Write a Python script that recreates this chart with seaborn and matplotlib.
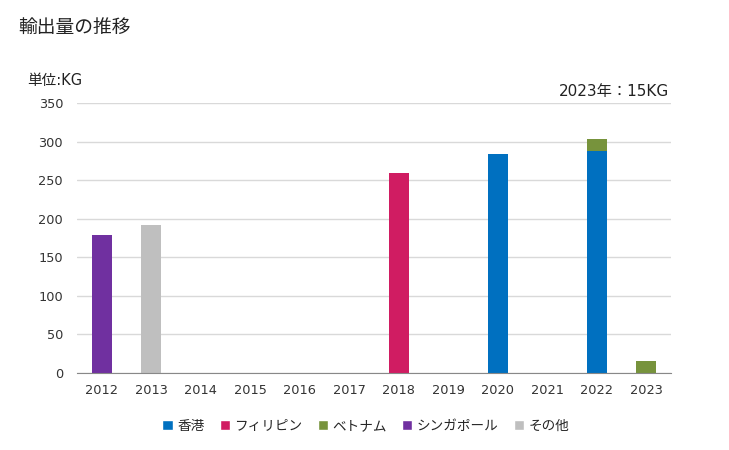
import pandas as pd
import numpy as np

import matplotlib
matplotlib.use("Agg")
import matplotlib.pyplot as plt
import seaborn as sns
from matplotlib.patches import Patch

years = [str(y) for y in range(2012, 2024)]
hongkong  = [0, 0, 0, 0, 0, 0, 0, 0, 284, 0, 288, 0]
philippines = [0, 0, 0, 0, 0, 0, 259, 0, 0, 0, 0, 0]
vietnam   = [0, 0, 0, 0, 0, 0, 0, 0, 0, 0, 15, 15]
singapore = [179, 0, 0, 0, 0, 0, 0, 0, 0, 0, 0, 0]
others    = [0, 192, 0, 0, 0, 0, 0, 0, 0, 0, 0, 0]

series_names = ["香港", "フィリピン", "ベトナム", "シンガポール", "その他"]
colors = ["#0070C0", "#D01C62", "#77933C", "#7030A0", "#BFBFBF"]

sns.set_style("white")
plt.rcParams['font.family'] = ['DejaVu Sans', 'Noto Sans CJK JP']

df = pd.DataFrame({"year": years, "香港": hongkong, "フィリピン": philippines,
                   "ベトナム": vietnam, "シンガポール": singapore, "その他": others})
cum = df[series_names].cumsum(axis=1)

fig = plt.figure(figsize=(7.29, 4.5), dpi=100)
ax = fig.add_axes([0.1056, 0.1711, 0.8148, 0.6])

# stacked bars: draw cumulative totals from top layer down
for name, col in reversed(list(zip(series_names, colors))):
    sns.barplot(x=df["year"], y=cum[name], color=col, width=0.4,
                order=years, ax=ax, saturation=1, linewidth=0)

ax.set_ylim(0, 350)
ax.set_yticks(range(0, 351, 50))
ax.yaxis.grid(True, color="#D9D9D9", linewidth=1)
ax.set_axisbelow(True)
ax.set_xlabel("")
ax.set_ylabel("")
for s in ["top", "right", "left"]:
    ax.spines[s].set_visible(False)
ax.spines["bottom"].set_color("#888888")
ax.tick_params(axis="both", length=0, labelsize=9.3, colors="#333333")
ax.tick_params(axis="x", pad=8)
ax.tick_params(axis="y", pad=10)

fig.text(0.025, 0.94, "輸出量の推移", fontsize=13.5, color="#222222", va="center")
fig.text(0.037, 0.822, "単位:KG", fontsize=10.5, color="#222222", va="center")
fig.text(0.918, 0.796, "2023年：15KG", fontsize=11, color="#222222", va="center", ha="right")

handles = [Patch(facecolor=c, label=n) for n, c in zip(series_names, colors)]
fig.legend(handles=handles, loc="center", bbox_to_anchor=(0.502, 0.053), ncol=5,
           frameon=False, fontsize=9.8, handlelength=0.75, handleheight=0.75,
           handletextpad=0.35, columnspacing=1.1)

fig.savefig("out.png", dpi=100)
